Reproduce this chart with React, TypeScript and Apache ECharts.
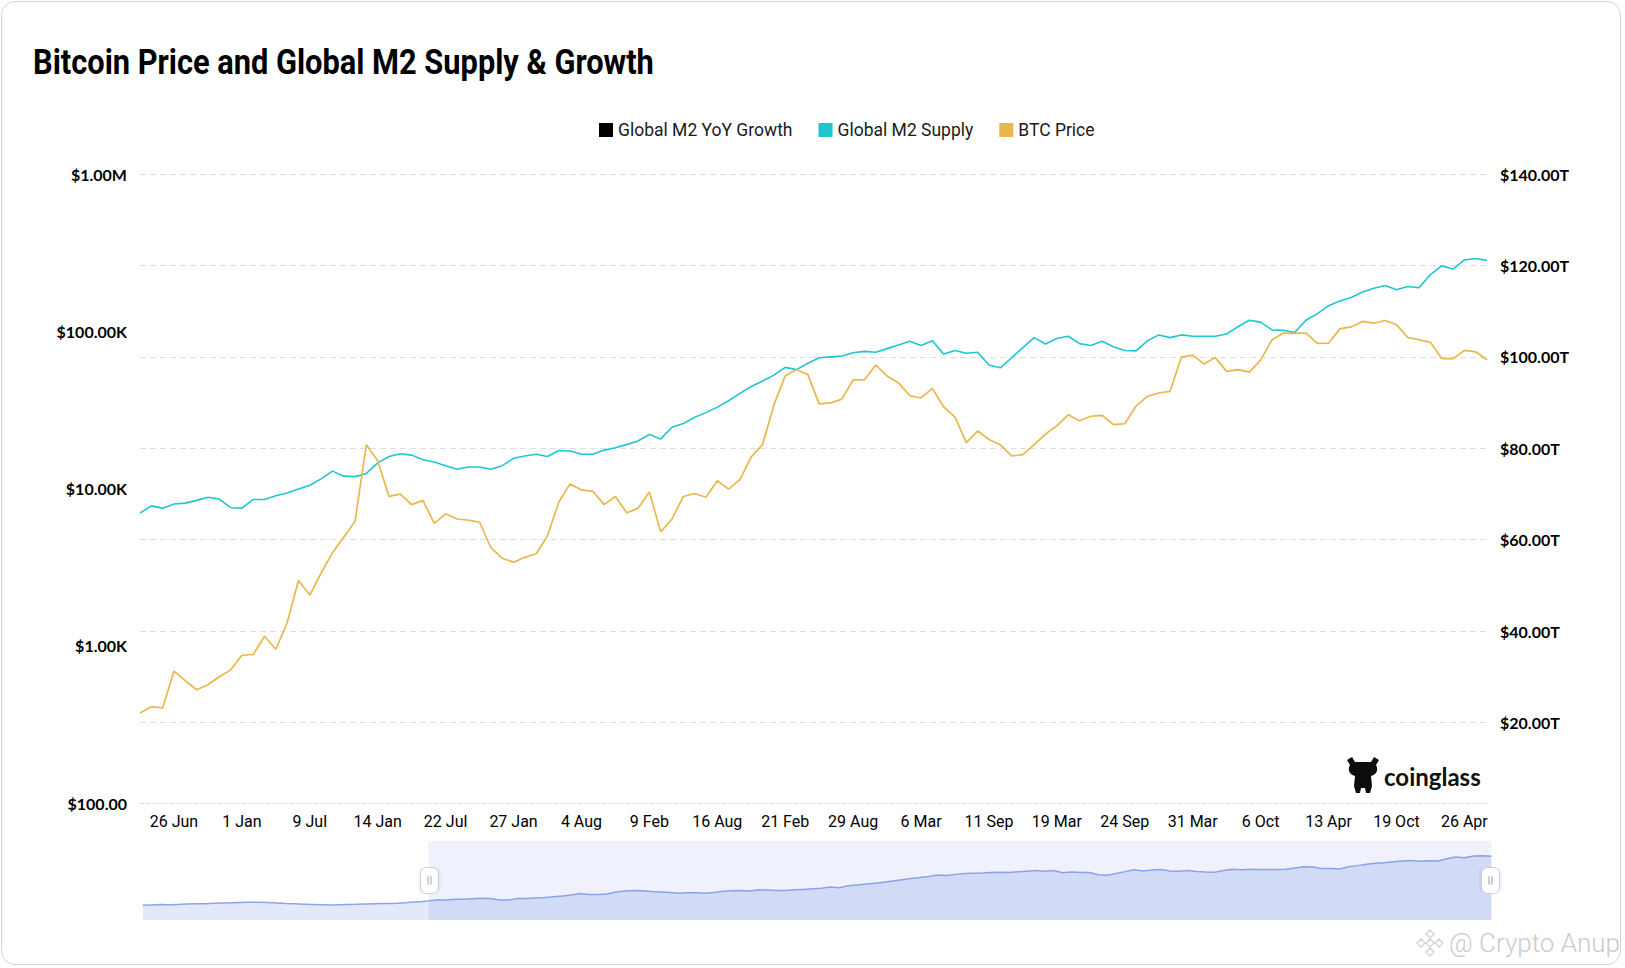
import React, { useEffect, useRef } from 'react';
import * as echarts from 'echarts';

// ---------- data ----------
const tickLabels = ['26 Jun', '1 Jan', '9 Jul', '14 Jan', '22 Jul', '27 Jan', '4 Aug', '9 Feb', '16 Aug', '21 Feb',
  '29 Aug', '6 Mar', '11 Sep', '19 Mar', '24 Sep', '31 Mar', '6 Oct', '13 Apr', '19 Oct', '26 Apr'];
const ZOOM_START = 32; // first category shown in the main view
const FIRST_TICK = 35; // category index of the first tick label
const TICK_STEP = 6; // categories between two tick labels

// Global M2 Supply, trillions USD
const m2Supply = [
  60.6, 60.9, 61.3, 61.2, 61.6, 62.0, 62.3, 62.4, 62.9, 63.2, 63.5, 63.9, 64.1, 64.3, 63.9, 63.4,
  62.8, 62.5, 61.9, 61.5, 61.1, 60.9, 61.2, 61.5, 61.9, 62.2, 62.5, 62.6, 62.8, 63.4, 64.1, 64.9,
  65.8, 67.4, 66.9, 67.8, 68.0, 68.6, 69.3, 68.9, 67.0, 66.9, 68.8, 68.8, 69.6, 70.2, 71.1, 71.9,
  73.3, 75.0, 73.9, 73.8, 74.5, 76.8, 78.2, 78.8, 78.5, 77.5, 77.0, 76.2, 75.4, 75.9, 75.9, 75.4,
  76.2, 77.8, 78.3, 78.7, 78.2, 79.5, 79.4, 78.7, 78.7, 79.6, 80.1, 80.8, 81.6, 83.0, 82.0, 84.6,
  85.4, 86.8, 87.8, 89.0, 90.4, 92.0, 93.5, 94.7, 96.0, 97.7, 97.2, 98.6, 99.8, 100.0, 100.2, 100.9,
  101.2, 101.0, 101.8, 102.6, 103.4, 102.5, 103.5, 100.6, 101.4, 100.8, 101.0, 98.2, 97.6, 99.8, 102.0, 104.2,
  102.8, 104.0, 104.5, 102.9, 102.5, 103.4, 102.2, 101.4, 101.3, 103.5, 104.8, 104.2, 104.8, 104.5, 104.5, 104.5,
  105.0, 106.6, 108.0, 107.6, 105.9, 105.8, 105.3, 108.0, 109.4, 111.2, 112.2, 113.0, 114.2, 115.0, 115.6, 114.7,
  115.4, 115.1, 118.0, 119.9, 119.2, 121.2, 121.5, 121.1,
];

// BTC Price, USD (not visible before the zoom window)
const btcPrice: (number | null)[] = [
  null, null, null, null, null, null, null, null, null, null, null, null, null, null, null, null,
  null, null, null, null, null, null, null, null, null, null, null, null, null, null, null, null,
  373, 410, 402, 689, 600, 525, 565, 635, 700, 870, 880, 1150, 950, 1400, 2600, 2100,
  2900, 3900, 4900, 6200, 19000, 15000, 8900, 9200, 7900, 8400, 6000, 6900, 6400, 6300, 6100, 4200,
  3600, 3400, 3650, 3850, 5000, 8200, 10700, 9800, 9600, 7900, 8900, 7000, 7500, 9500, 5300, 6400,
  8900, 9300, 8800, 11200, 9900, 11400, 15900, 19000, 34000, 52000, 57200, 53000, 34500, 35000, 37000, 49000,
  49000, 61000, 52000, 47000, 39000, 37650, 43300, 33000, 28400, 19600, 23200, 20500, 19000, 16100, 16400, 19000,
  22200, 25000, 29400, 27000, 28800, 29200, 25450, 25800, 33500, 38500, 40500, 41500, 68500, 70500, 62000, 68000,
  55600, 57000, 55000, 65500, 88000, 97500, 97000, 97500, 83700, 84000, 103500, 106500, 115500, 112500, 117000, 110000,
  91500, 88300, 85000, 67000, 67000, 75500, 74000, 65900,
];

// Global M2 YoY Growth: listed in the legend, no values drawn
const m2YoyGrowth: (number | null)[] = [];

const categories = m2Supply.map((_, i) => `P${i}`);
const leftTickLabels = ['$100.00', '$1.00K', '$10.00K', '$100.00K', '$1.00M'];
const rightTicks = [20, 40, 60, 80, 100, 120, 140];

const MASCOT =
  'M1,3 L6,0 L9,5 L25,5 L28,0 L33,3 L30,8 C33,13 30,18 25,19 L26,29 L24,36 L20,36 L19,31 L15,31 L14,36 L10,36 L8,29 L9,19 C4,18 1,13 4,8 Z';
const BINANCE =
  'M13,0 L17,4 L13,8 L9,4 Z M13,18 L17,22 L13,26 L9,22 Z M4,9 L8,13 L4,17 L0,13 Z M22,9 L26,13 L22,17 L18,13 Z M13,9 L17,13 L13,17 L9,13 Z';

let shapesRegistered = false;
function registerShapes() {
  if (shapesRegistered) return;
  echarts.graphic.registerShape('cgMascot', echarts.graphic.extendPath(MASCOT, {}) as any);
  echarts.graphic.registerShape('bnLogo', echarts.graphic.extendPath(BINANCE, {}) as any);
  shapesRegistered = true;
}

const catIndex = (name: string) => Number(String(name).slice(1));
const isTick = (i: number) => i >= FIRST_TICK && (i - FIRST_TICK) % TICK_STEP === 0;

export default function App() {
  const ref = useRef<HTMLDivElement>(null);

  useEffect(() => {
    if (!ref.current) return;
    registerShapes();
    const chart = echarts.init(ref.current, undefined, { renderer: 'svg' });
    const option: any = {
      animation: false,
      backgroundColor: '#ffffff',
      legend: {
        data: ['Global M2 YoY Growth', 'Global M2 Supply', 'BTC Price'],
        left: 594,
        top: 116,
        icon: 'rect',
        itemWidth: 14,
        itemHeight: 14,
        itemGap: 26,
        textStyle: { fontFamily: 'Roboto', fontSize: 17.5, color: '#1a1a1a' },
      },
      grid: { left: 140, right: 138, top: 174, bottom: 165 },
      xAxis: {
        type: 'category',
        data: categories,
        boundaryGap: false,
        axisTick: { show: false },
        axisLine: { show: true, lineStyle: { color: '#e0e0e0', type: 'dashed' } },
        axisLabel: {
          color: '#000',
          fontFamily: 'Roboto',
          fontSize: 16,
          margin: 10,
          interval: (index: number, value: string) => isTick(catIndex(value)),
          formatter: (value: string) => {
            const i = catIndex(value);
            return isTick(i) ? tickLabels[(i - FIRST_TICK) / TICK_STEP] ?? '' : '';
          },
        },
      },
      yAxis: [
        {
          type: 'log',
          logBase: 10,
          position: 'left',
          min: 100,
          max: 1000000,
          splitLine: { show: false },
          axisLine: { show: false },
          axisTick: { show: false },
          axisLabel: {
            color: '#000',
            fontFamily: 'Lato',
            fontWeight: 'bold',
            fontSize: 16,
            margin: 13,
            formatter: (v: number) => leftTickLabels[Math.round(Math.log10(v)) - 2] ?? '',
          },
        },
        {
          type: 'value',
          position: 'right',
          min: 2.4,
          max: 140,
          axisLine: { show: false },
          axisTick: { show: false, customValues: rightTicks },
          splitLine: { show: true, lineStyle: { color: '#dedede', type: [6, 4], width: 1 } },
          axisLabel: {
            customValues: rightTicks,
            color: '#000',
            fontFamily: 'Lato',
            fontWeight: 'bold',
            fontSize: 16,
            margin: 13,
            formatter: (v: number) => `$${v.toFixed(2)}T`,
          },
        },
        { type: 'value', show: false },
      ],
      dataZoom: [
        {
          type: 'slider',
          xAxisIndex: 0,
          startValue: ZOOM_START,
          endValue: m2Supply.length - 1,
          left: 140,
          right: 136,
          top: 841,
          height: 79,
          showDetail: false,
          brushSelect: false,
          moveHandleSize: 0,
          moveHandleStyle: { opacity: 0 },
          borderColor: 'transparent',
          backgroundColor: 'rgba(0,0,0,0)',
          fillerColor: 'rgba(120,150,240,0.12)',
          dataBackground: {
            lineStyle: { color: '#8fa3ea', width: 1.5, opacity: 1 },
            areaStyle: { color: '#e4e9f9', opacity: 1 },
          },
          selectedDataBackground: {
            lineStyle: { color: '#8fa3ea', width: 1.5, opacity: 1 },
            areaStyle: { color: '#dfe5f8', opacity: 1 },
          },
          handleIcon:
            'path://M6,0H12A6,6,0,0,1,18,6V20A6,6,0,0,1,12,26H6A6,6,0,0,1,0,20V6A6,6,0,0,1,6,0ZM7,9H8V17H7ZM10,9H11V17H10Z',
          handleSize: 26,
          handleStyle: {
            color: '#ffffff',
            borderColor: '#c9ced8',
            borderWidth: 1,
            shadowBlur: 4,
            shadowColor: 'rgba(0,0,0,0.12)',
          },
        },
      ],
      series: [
        {
          name: 'Global M2 Supply',
          type: 'line',
          yAxisIndex: 1,
          data: m2Supply,
          showSymbol: false,
          color: '#1fc6d2',
          lineStyle: { width: 1.6, color: '#1fc6d2' },
        },
        {
          name: 'BTC Price',
          type: 'line',
          yAxisIndex: 0,
          data: btcPrice,
          showSymbol: false,
          color: '#e9b84c',
          lineStyle: { width: 1.7, color: '#e9b84c' },
        },
        {
          name: 'Global M2 YoY Growth',
          type: 'line',
          yAxisIndex: 2,
          data: m2YoyGrowth,
          showSymbol: false,
          color: '#000000',
        },
      ],
      graphic: [
        {
          type: 'text',
          x: 33,
          y: 62,
          scaleX: 0.88,
          style: {
            text: 'Bitcoin Price and Global M2 Supply & Growth',
            fontFamily: 'Roboto',
            fontWeight: 'bold',
            fontSize: 35,
            fill: '#000',
            verticalAlign: 'middle',
          },
          silent: true,
        },
        {
          type: 'cgMascot',
          x: 1346,
          y: 757,
          style: { fill: '#0d0d0d' },
          silent: true,
        },
        {
          type: 'text',
          x: 1384,
          y: 776,
          style: {
            text: 'coinglass',
            fontFamily: 'Lato',
            fontWeight: 'bold',
            fontSize: 24,
            fill: '#111',
            verticalAlign: 'middle',
          },
          silent: true,
        },
        {
          type: 'bnLogo',
          x: 1417,
          y: 930,
          style: { fill: 'none', stroke: '#d6d6d6', lineWidth: 1.5 },
          silent: true,
        },
        {
          type: 'text',
          x: 1449,
          y: 943,
          style: {
            text: '@ Crypto Anup',
            fontFamily: 'Roboto',
            fontWeight: 300,
            fontSize: 26,
            fill: '#cbcbcb',
            verticalAlign: 'middle',
          },
          silent: true,
        },
      ],
    };
    chart.setOption(option);
    return () => chart.dispose();
  }, []);

  return (
    <div style={{ position: 'fixed', left: 0, top: 0, width: 1625, height: 968, background: '#fff' }}>
      <div ref={ref} style={{ position: 'absolute', left: 0, top: 0, width: 1625, height: 968 }} />
      <div
        style={{
          position: 'absolute',
          left: 1,
          top: 1,
          width: 1620,
          height: 964,
          border: '1.5px solid #d4d4d4',
          borderRadius: 14,
          boxSizing: 'border-box',
          pointerEvents: 'none',
        }}
      />
    </div>
  );
}
